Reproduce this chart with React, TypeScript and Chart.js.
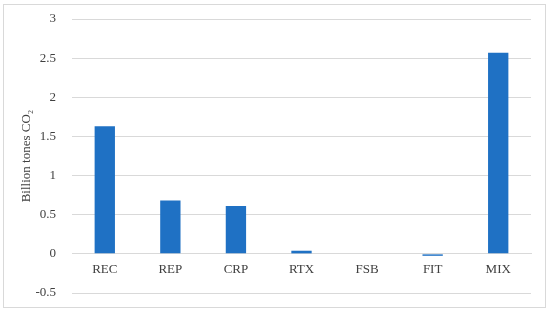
import React, { useEffect, useRef } from "react";
import { Chart, registerables } from "chart.js";

Chart.register(...registerables);

const categories = ["REC", "REP", "CRP", "RTX", "FSB", "FIT", "MIX"];
const values = [1.63, 0.68, 0.61, 0.04, 0, -0.025, 2.57];
const yMin = -0.5;
const yMax = 3;
const yStep = 0.5;
const yTitle = "Billion tones CO\u2082";

const borderPlugin = {
  id: "outerBorder",
  beforeDraw(chart: any) {
    const ctx = chart.ctx;
    ctx.save();
    ctx.strokeStyle = "#d9d9d9";
    ctx.lineWidth = 1;
    ctx.strokeRect(3.5, 4.5, 542, 303);
    ctx.restore();
  },
};

export default function App() {
  const ref = useRef<HTMLCanvasElement>(null);
  useEffect(() => {
    const chart = new Chart(ref.current!, {
      type: "bar",
      data: {
        labels: categories,
        datasets: [
          {
            data: values,
            backgroundColor: "#1f71c4",
            barPercentage: 0.31,
            categoryPercentage: 1,
          },
        ],
      },
      options: {
        animation: false,
        responsive: false,
        layout: { padding: { left: 10, right: 19, top: 19, bottom: 19 } },
        plugins: { legend: { display: false }, tooltip: { enabled: false } },
        scales: {
          x: {
            position: { y: 0 } as any,
            afterFit(scale: any) {
              scale.height = 0;
              scale.paddingLeft = 0;
              scale.paddingRight = 0;
            },
            grid: { display: false, drawTicks: false },
            border: { display: true, color: "#d9d9d9" },
            ticks: {
              color: "#404040",
              font: { family: "Liberation Serif", size: 13 },
              padding: 8,
            },
          },
          y: {
            min: yMin,
            max: yMax,
            afterFit(scale: any) {
              scale.width = 62;
              scale.paddingTop = 0;
              scale.paddingBottom = 0;
            },
            grid: { color: "#d9d9d9", drawTicks: false },
            border: { display: false },
            ticks: {
              stepSize: yStep,
              color: "#404040",
              font: { family: "Liberation Serif", size: 13 },
              padding: 16,
              callback: (v: any) => String(Number(v)),
            },
            title: {
              display: true,
              text: yTitle,
              color: "#404040",
              font: { family: "Liberation Serif", size: 13 },
              padding: { top: 9, bottom: 0 },
            },
          },
        },
      },
      plugins: [borderPlugin],
    });
    return () => chart.destroy();
  }, []);
  return (
    <div style={{ position: "absolute", left: 0, top: 0, width: 550, height: 312, background: "#fff" }}>
      <canvas ref={ref} width={550} height={312} style={{ display: "block" }} />
    </div>
  );
}
